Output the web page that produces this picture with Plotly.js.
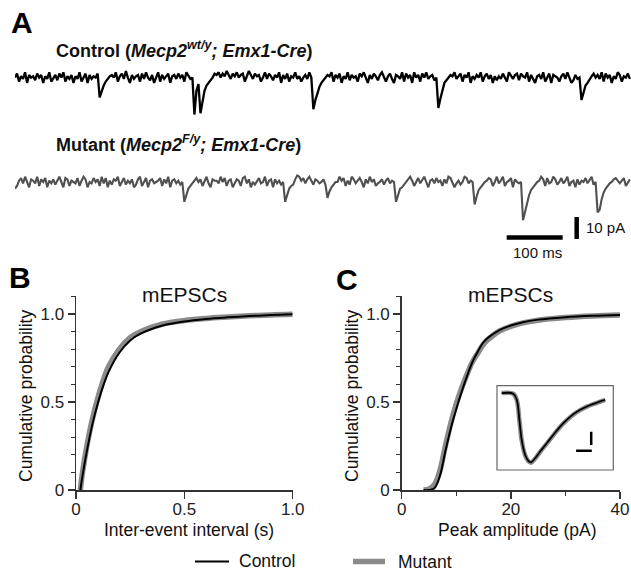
<!DOCTYPE html>
<html><head><meta charset="utf-8">
<script src="https://cdn.plot.ly/plotly-3.0.1.min.js"></script>
<style>html,body{margin:0;padding:0;background:#fff}#chart{width:631px;height:571px}</style>
</head><body><div id="chart"></div>
<script>
// ---------- Panel A: example current traces (hand-read codes, base-36, 30 = baseline) ----------
const sampleIntervalMs = 3.6;
const codeBaseline = 30;
const pAPerCode = 0.6;
const controlTraceCodes = [
"uxrvtyqwuv","sxuwqvtyru","wsxuyrvtwq","vtyruxqwtv","uxfkortvwu",
"yrvxtzuqwt","vwrxtyuswq","uyrwtvxqvw","txuwryvtu2","kp3ckoqsux",
"wyuxvzwtxv","yuwxrvzwtx","vwruytxvsw","uyqwtxrvuy","tvruwtyu6d",
"jnqsuwvyrw","uxqvtyswuv","rxvyuqwtxv","swyurvxtqw","vtyrxuwqyu",
"wrxuytvwsu","7elqsuwvyt","vxrwuyqvtw","uyrvxtwqvs","vtxuryvtwx",
"sxvuyrwtqv","wtyruxqwvu","rvxtyuqswt","udjoqtvxuw","tyrxuwqvty",
"wrvuxt"].join('');
const mutantTraceCodes = [
"prvxtyuqwv","tyrwuxqvtw","svyuqxwrvu","txrvywqutx","uwrytxqvsw",
"vyruxsvtwq","swyruxqvwt","uvxrwtyqvw","tvsufkprtv","xuwrvytqwv",
"vtyuxrvwqt","wvrxytwqus","vxtuyrvwqw","tvsuflprsw","zyvxtwyvsw",
"vtuwsinqsu","uyvxrvsywt","vxuqwtyuwr","tuwsvxtvuf","kpqsuwyvru",
"xtwyuqvwtx","uvrwtyxuqt","vsuyxtvudj","oqsuvxwruy","tvyruvxqwu",
"tu18fkoqsu","vywrxtuyws","uxtvyruvqw","svuxtwysu7","9hmprtuwxv",
"tvxruw"].join('');
const decode = s => s.split('').map(c => (parseInt(c, 36) - codeBaseline) * pAPerCode);
const controlTrace = decode(controlTraceCodes);
const mutantTrace = decode(mutantTraceCodes);
const controlTimes = controlTrace.map((_, i) => i * sampleIntervalMs);
const mutantTimes = mutantTrace.map((_, i) => i * sampleIntervalMs);

// ---------- Panel B: inter-event interval CDF ----------
const iei = [0.02, 0.03, 0.05, 0.075, 0.1, 0.125, 0.15, 0.2, 0.25, 0.3, 0.4, 0.5, 0.6, 0.7, 0.8, 0.9, 1.0];
const ieiControl = [0, 0.08, 0.22, 0.37, 0.49, 0.59, 0.67, 0.78, 0.85, 0.89, 0.935, 0.958, 0.972, 0.981, 0.988, 0.994, 0.998];
const ieiMutant  = [0, 0.10, 0.25, 0.40, 0.52, 0.62, 0.70, 0.80, 0.865, 0.90, 0.943, 0.963, 0.975, 0.983, 0.99, 0.995, 0.998];

// ---------- Panel C: peak amplitude CDF ----------
const amp = [4, 5, 6, 7, 8, 9, 10, 11, 12, 13, 14, 15, 16, 18, 20, 22, 25, 30, 35, 40];
const ampControl = [0, 0, 0.01, 0.08, 0.22, 0.35, 0.46, 0.56, 0.65, 0.73, 0.79, 0.84, 0.87, 0.91, 0.935, 0.952, 0.968, 0.982, 0.99, 0.995];
const ampMutant  = [0, 0.005, 0.03, 0.11, 0.25, 0.38, 0.49, 0.58, 0.66, 0.73, 0.78, 0.83, 0.86, 0.905, 0.93, 0.948, 0.965, 0.98, 0.989, 0.994];

// ---------- Inset: average mEPSC waveform ----------
const insetT = [1.6, 5.6, 6.8, 7.7, 8.5, 9.7, 10.8, 11.7, 13.1, 14.8, 17.1, 19.4, 21.7, 24.0, 26.3, 28.6, 30.9, 33.2, 35.5, 37.2];
const insetControl = [0, -0.1, -0.9, -3.66, -6.4, -8.45, -9.27, -9.45, -8.9, -8.0, -6.85, -5.7, -4.57, -3.66, -2.88, -2.29, -1.83, -1.47, -1.15, -0.92];
const insetMutant  = [0, -0.1, -0.95, -3.7, -6.45, -8.5, -9.3, -9.5, -8.95, -8.05, -6.9, -5.75, -4.62, -3.7, -2.92, -2.33, -1.86, -1.5, -1.18, -0.95];

// ---------- helpers ----------
const W = 631, H = 571;
const PX = p => p / W, PY = p => 1 - p / H;
const FONT = 'Liberation Sans, Arial, Helvetica, sans-serif';
const AX = '#333';
const GRAY = '#8a8a8a';

const traces = [
  {x: controlTimes, y: controlTrace, xaxis: 'x3', yaxis: 'y3', mode: 'lines', line: {color: '#000', width: 2.3}, hoverinfo: 'skip'},
  {x: mutantTimes, y: mutantTrace, xaxis: 'x4', yaxis: 'y4', mode: 'lines', line: {color: '#505050', width: 2.1}, hoverinfo: 'skip'},
  {x: iei, y: ieiMutant, xaxis: 'x', yaxis: 'y', mode: 'lines', line: {color: GRAY, width: 5.5, shape: 'spline'}},
  {x: iei, y: ieiControl, xaxis: 'x', yaxis: 'y', mode: 'lines', line: {color: '#000', width: 2, shape: 'spline'}},
  {x: amp, y: ampMutant, xaxis: 'x2', yaxis: 'y2', mode: 'lines', line: {color: GRAY, width: 5.5, shape: 'spline'}},
  {x: amp, y: ampControl, xaxis: 'x2', yaxis: 'y2', mode: 'lines', line: {color: '#000', width: 2, shape: 'spline'}},
  {x: insetT, y: insetMutant, xaxis: 'x5', yaxis: 'y5', mode: 'lines', line: {color: GRAY, width: 4.5, shape: 'spline'}},
  {x: insetT, y: insetControl, xaxis: 'x5', yaxis: 'y5', mode: 'lines', line: {color: '#000', width: 1.8, shape: 'spline'}}
];

const cdfY = {
  range: [0, 1.1], showline: true, linecolor: AX, linewidth: 1.5,
  ticks: 'outside', ticklen: 7, tickwidth: 1.5, tickcolor: AX,
  tickvals: [0, 0.5, 1.0], ticktext: ['0', '0.5', '1.0'],
  minor: {tickvals: [0.1, 0.2, 0.3, 0.4, 0.6, 0.7, 0.8, 0.9, 1.1], ticks: 'outside', ticklen: 4, tickwidth: 1.2, tickcolor: AX},
  showgrid: false, zeroline: false, tickfont: {size: 17, color: '#222'}, fixedrange: true
};
const hidden = {visible: false, showgrid: false, zeroline: false, fixedrange: true};

const layout = {
  width: W, height: H, margin: {l: 0, r: 0, t: 0, b: 0},
  paper_bgcolor: '#fff', plot_bgcolor: 'rgba(0,0,0,0)', showlegend: false,
  font: {family: FONT, color: '#111'},
  xaxis: {domain: [PX(76), PX(292.7)], range: [0, 1.0], anchor: 'y', showline: true, linecolor: AX, linewidth: 1.5,
    ticks: 'outside', ticklen: 7, tickwidth: 1.5, tickcolor: AX, tickvals: [0, 0.5, 1.0], ticktext: ['0', '0.5', '1.0'],
    ticklabelstandoff: -4,
    showgrid: false, zeroline: false, tickfont: {size: 17, color: '#222'}, fixedrange: true},
  yaxis: Object.assign({domain: [PY(490), PY(296.4)], anchor: 'x'}, cdfY),
  xaxis2: {domain: [PX(401.7), PX(620)], range: [0, 40], anchor: 'y2', showline: true, linecolor: AX, linewidth: 1.5,
    ticks: 'outside', ticklen: 7, tickwidth: 1.5, tickcolor: AX, tickvals: [0, 20, 40],
    ticklabelstandoff: -4,
    minor: {tickvals: [10, 30], ticks: 'outside', ticklen: 4, tickwidth: 1.2, tickcolor: AX},
    showgrid: false, zeroline: false, tickfont: {size: 17, color: '#222'}, fixedrange: true},
  yaxis2: Object.assign({domain: [PY(490), PY(296.4)], anchor: 'x2'}, cdfY),
  xaxis3: Object.assign({domain: [PX(15), 1], range: [0, 1100], anchor: 'y3'}, hidden),
  yaxis3: Object.assign({domain: [PY(126), PY(60)], range: [-22, 8], anchor: 'x3'}, hidden),
  xaxis4: Object.assign({domain: [PX(15), 1], range: [0, 1100], anchor: 'y4'}, hidden),
  yaxis4: Object.assign({domain: [PY(248), PY(160)], range: [-30, 10], anchor: 'x4'}, hidden),
  xaxis5: Object.assign({domain: [PX(497), PX(613.3)], range: [0, 40], anchor: 'y5'}, hidden),
  yaxis5: Object.assign({domain: [PY(470), PY(385.7)], range: [-10.5, 1], anchor: 'x5'}, hidden),
  shapes: [
    // panel A scale bars
    {type: 'line', xref: 'x4', yref: 'y4', x0: 878, x1: 978, y0: -25.2, y1: -25.2, line: {color: '#000', width: 4.5}},
    {type: 'line', xref: 'x4', yref: 'y4', x0: 1003, x1: 1003, y0: -15.9, y1: -25.9, line: {color: '#000', width: 4.5}},
    // inset frame
    {type: 'rect', xref: 'paper', yref: 'paper', x0: PX(497), x1: PX(613.3), y0: PY(470), y1: PY(385.7), line: {color: '#666', width: 1.2}, fillcolor: 'rgba(0,0,0,0)'},
    // inset scale bars
    {type: 'line', xref: 'x5', yref: 'y5', x0: 27.2, x1: 32.6, y0: -7.87, y1: -7.87, line: {color: '#000', width: 2.5}},
    {type: 'line', xref: 'x5', yref: 'y5', x0: 32.4, x1: 32.4, y0: -5.28, y1: -7.09, line: {color: '#000', width: 2.5}},
    // legend keys
    {type: 'line', xref: 'paper', yref: 'paper', x0: PX(195), x1: PX(229), y0: PY(561.5), y1: PY(561.5), line: {color: '#000', width: 2}},
    {type: 'line', xref: 'paper', yref: 'paper', x0: PX(353), x1: PX(385), y0: PY(561.5), y1: PY(561.5), line: {color: GRAY, width: 5.5}}
  ],
  annotations: [
    {text: '<b>A</b>', x: PX(9), y: PY(22.5), xanchor: 'left', yanchor: 'middle', font: {size: 30, color: '#000'}},
    {text: '<b>B</b>', x: PX(7), y: PY(277.5), xanchor: 'left', yanchor: 'middle', font: {size: 30, color: '#000'}},
    {text: '<b>C</b>', x: PX(334), y: PY(279), xanchor: 'left', yanchor: 'middle', font: {size: 30, color: '#000'}},
    {text: '<b>Control (<i>Mecp2<sup>wt/y</sup>; Emx1-Cre</i>)</b>', x: PX(54), y: PY(50), xanchor: 'left', yanchor: 'middle', font: {size: 18, color: '#111'}},
    {text: '<b>Mutant (<i>Mecp2<sup>F/y</sup>; Emx1-Cre</i>)</b>', x: PX(54), y: PY(143), xanchor: 'left', yanchor: 'middle', font: {size: 18, color: '#111'}},
    {text: '100 ms', x: PX(537), y: PY(253), xanchor: 'center', yanchor: 'middle', font: {size: 15, color: '#111'}},
    {text: '10 pA', x: PX(584), y: PY(228), xanchor: 'left', yanchor: 'middle', font: {size: 15, color: '#111'}},
    {text: 'mEPSCs', x: PX(184), y: PY(294), xanchor: 'center', yanchor: 'middle', font: {size: 21, color: '#111'}},
    {text: 'mEPSCs', x: PX(510.5), y: PY(294), xanchor: 'center', yanchor: 'middle', font: {size: 21, color: '#111'}},
    {text: 'Cumulative probability', x: PX(26), y: PY(396), textangle: -90, xanchor: 'center', yanchor: 'middle', font: {size: 17.5, color: '#111'}},
    {text: 'Cumulative probability', x: PX(352), y: PY(396), textangle: -90, xanchor: 'center', yanchor: 'middle', font: {size: 17.5, color: '#111'}},
    {text: 'Inter-event interval (s)', x: PX(189), y: PY(530), xanchor: 'center', yanchor: 'middle', font: {size: 17.5, color: '#111'}},
    {text: 'Peak amplitude (pA)', x: PX(517), y: PY(530), xanchor: 'center', yanchor: 'middle', font: {size: 17.5, color: '#111'}},
    {text: 'Control', x: PX(237), y: PY(560.5), xanchor: 'left', yanchor: 'middle', font: {size: 17.5, color: '#111'}},
    {text: 'Mutant', x: PX(396), y: PY(561.5), xanchor: 'left', yanchor: 'middle', font: {size: 17.5, color: '#111'}}
  ].map(a => Object.assign({xref: 'paper', yref: 'paper', showarrow: false}, a))
};

Plotly.newPlot('chart', traces, layout, {staticPlot: true, displayModeBar: false});
</script></body></html>
